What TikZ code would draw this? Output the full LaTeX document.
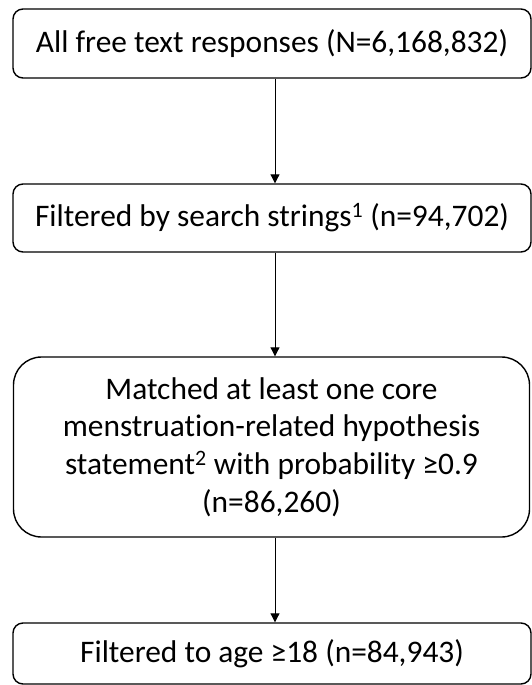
\documentclass[tikz,border=0pt]{standalone}
\usepackage{fontspec}
\setmainfont[Ligatures={NoCommon}]{Carlito}
\usetikzlibrary{arrows.meta}
\tikzset{
  flowbox/.style={draw=black, line width=1.4pt, rounded corners=10pt, inner sep=0pt,
    align=center, font=\fontsize{31.4}{37.8}\selectfont, text=black},
  flowarrow/.style={draw=black, line width=1pt, -{Triangle[width=9pt,length=9pt]}}
}
\begin{document}
\begin{tikzpicture}[x=1pt,y=-1pt]
\useasboundingbox (0,0) rectangle (532,685);
\node[flowbox, minimum width=518pt, minimum height=69pt] (b1) at (272,43.5)
  {All free text responses (N=6,168,832)};
\node[flowbox, minimum width=518pt, minimum height=68pt] (b2) at (272,218)
  {Filtered by search strings\textsuperscript{1} (n=94,702)};
\node[flowbox, rounded corners=28pt, minimum width=516pt, minimum height=180pt] (b3) at (271.5,447)
  {Matched at least one core\\menstruation-related hypothesis\\statement\textsuperscript{2} with probability ≥0.9\\(n=86,260)};
\node[flowbox, minimum width=518pt, minimum height=61pt] (b4) at (272,653.5)
  {Filtered to age ≥18 (n=84,943)};
\coordinate (ax) at (275,0);
\draw[flowarrow] (b1.south -| ax) -- (b2.north -| ax);
\draw[flowarrow] (b2.south -| ax) -- (b3.north -| ax);
\draw[flowarrow] (b3.south -| ax) -- (b4.north -| ax);
\end{tikzpicture}
\end{document}
